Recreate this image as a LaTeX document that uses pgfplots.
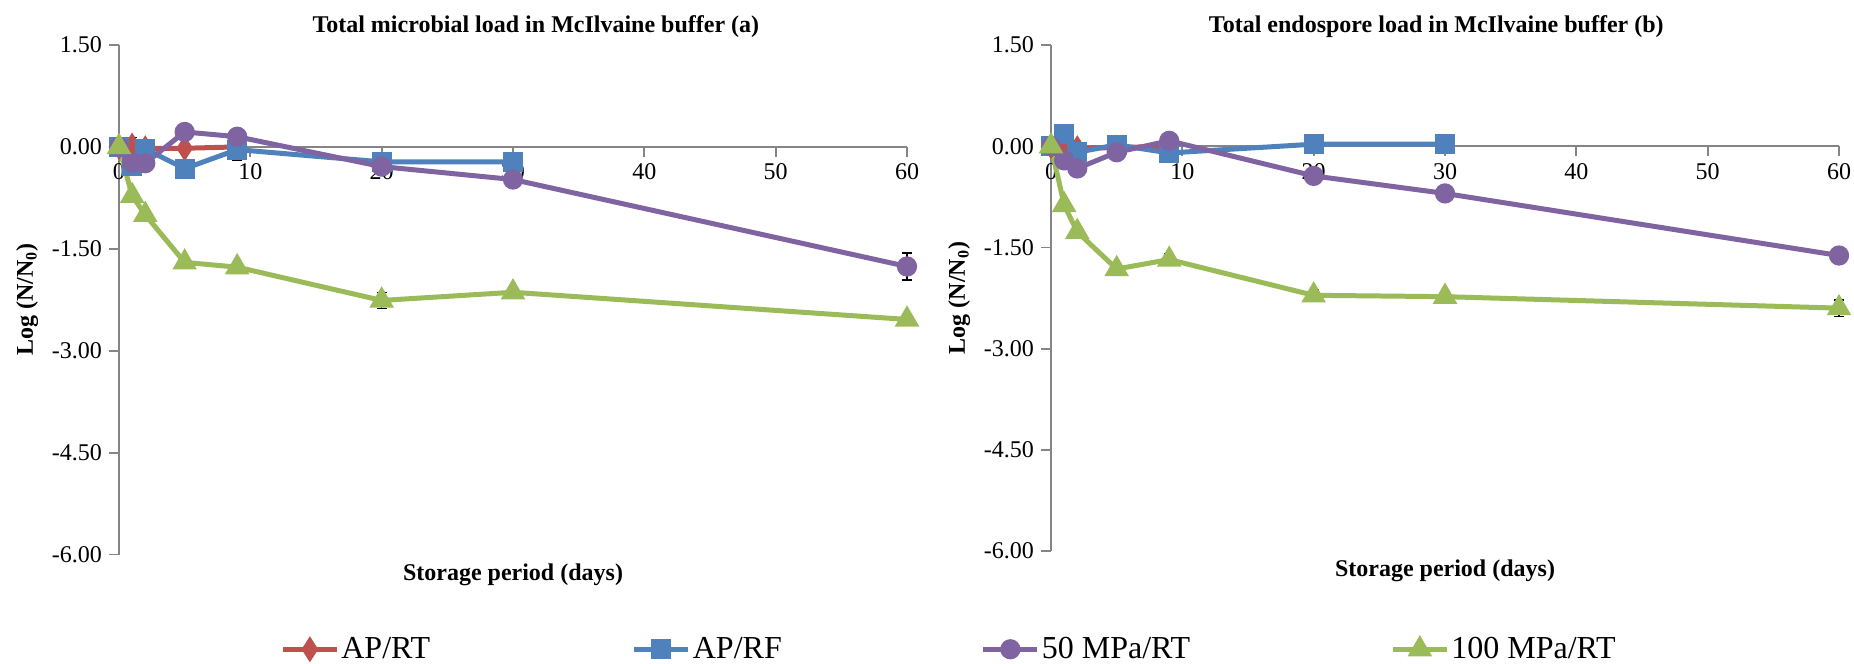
\documentclass[border=0pt]{standalone}
\usepackage{pgfplots}
\pgfplotsset{compat=1.18}
\usepackage{fontspec}
\setmainfont{Liberation Serif}
\definecolor{cRT}{HTML}{C0504D}
\definecolor{cRF}{HTML}{4F81BD}
\definecolor{cFifty}{HTML}{8064A2}
\definecolor{cHund}{HTML}{9BBB59}
\pgfplotsset{
  myaxis/.style={
    scale only axis, width=394pt,
    xmin=0, xmax=60, ymin=-6, ymax=1.5,
    axis x line=middle, axis y line=left,
    hide obscured x ticks=false, hide obscured y ticks=false,
    axis line style={draw=black!48, line width=0.9pt, -},
    tick style={draw=black!48, line width=0.9pt},
    major tick length=5pt,
    xtick align=outside, ytick align=outside,
    xtick={0,10,...,60}, ytick={-6,-4.5,-3,-1.5,0,1.5},
    minor tick num=0,
    font=\fontsize{12}{14}\selectfont,
    tick label style={font=\fontsize{12}{14}\selectfont},
    /pgf/number format/assume math mode=true,
    yticklabel style={/pgf/number format/.cd, fixed, fixed zerofill, precision=2},
    xticklabel style={/pgf/number format/.cd, fixed, precision=0},
    xlabel={\textbf{Storage period (days)}},
    xlabel style={at={(axis description cs:0.5,0)}, anchor=north, yshift=-1pt},
    ylabel={\textbf{Log (N/N\textsubscript{0})}},
    title style={font=\fontsize{12}{14}\selectfont\bfseries, anchor=south, yshift=-6pt},
    clip=false,
    every axis plot/.append style={line width=2.5pt},
  },
  rtstyle/.style={color=cRT, mark=diamond*, mark size=4.2pt, mark options={solid, xscale=0.85}},
  rfstyle/.style={color=cRF, mark=square*, mark size=3.8pt, mark options={solid}},
  fiftystyle/.style={color=cFifty, mark=*, mark size=3.8pt, mark options={solid}},
  hundstyle/.style={color=cHund, mark=triangle*, mark size=4.6pt, mark options={solid}},
  ebars/.style={draw=none, mark=none, forget plot,
    error bars/.cd, y dir=both, y explicit,
    error bar style={draw=black, line width=0.7pt},
    error mark options={draw=black, rotate=90, mark size=2.5pt, line width=0.7pt}},
}
\begin{document}
\begin{tikzpicture}
\path[use as bounding box] (0,0) rectangle (927pt,-332pt);

% ---------------- Left axis ----------------
\begin{axis}[myaxis, height=254.75pt,
  at={(59.5pt,-277.25pt)}, anchor=south west,
  title={Total microbial load in McIlvaine buffer (a)},
  title style={at={(axis description cs:0.529,1)}},
  legend style={at={(axis description cs:0.2043,-0.186)}, anchor=west,
    draw=none, fill=none, inner sep=0pt, legend columns=4,
    font=\fontsize{16}{18}\selectfont,
    nodes={inner sep=0pt},
    /tikz/every odd column/.append style={column sep=1pt},
    /tikz/every even column/.append style={column sep=0pt}},
  legend cell align=left,
  legend image code/.code={\draw[mark repeat=2,mark phase=2] plot coordinates {(0pt,0pt)(13.5pt,0pt)(27pt,0pt)};},
]
\addplot[rtstyle] coordinates {(0,0) (1,0.02) (2,-0.02) (5,-0.02) (9,0.0)};
\addlegendentry{\makebox[145.25pt][l]{AP/RT}}
\addplot[rfstyle] coordinates {(0,0) (1,-0.28) (2,-0.03) (5,-0.32) (9,-0.04) (20,-0.22) (30,-0.22)};
\addlegendentry{\makebox[144pt][l]{AP/RF}}
\addplot[fiftystyle] coordinates {(0,0) (1,-0.23) (2,-0.24) (5,0.22) (9,0.15) (20,-0.29) (30,-0.48) (60,-1.76)};
\addlegendentry{\makebox[174.25pt][l]{50 MPa/RT}}
\addplot[hundstyle] coordinates {(0,0) (1,-0.72) (2,-1.00) (5,-1.70) (9,-1.77) (20,-2.26) (30,-2.14) (60,-2.54)};
\addlegendentry{100 MPa/RT}
% error bars
\addplot[ebars] coordinates {(1,0.02) +- (0,0.12) (9,-0.04) +- (0,0.16) (60,-1.76) +- (0,0.20)
  (1,-0.72) +- (0,0.08) (2,-1.00) +- (0,0.07) (5,-1.70) +- (0,0.06) (20,-2.26) +- (0,0.12) (30,-2.14) +- (0,0.07) (60,-2.54) +- (0,0.06)};
\end{axis}

% ---------------- Right axis ----------------
\begin{axis}[myaxis, height=253pt,
  at={(525.5pt,-275.5pt)}, anchor=south west,
  title={Total endospore load in McIlvaine buffer (b)},
  title style={at={(axis description cs:0.489,1)}},
]
\addplot[rtstyle] coordinates {(0,0) (1,-0.04) (2,-0.03) (5,-0.02) (9,0.0)};
\addplot[rfstyle] coordinates {(0,0) (1,0.18) (2,-0.09) (5,0.02) (9,-0.10) (20,0.03) (30,0.03)};
\addplot[fiftystyle] coordinates {(0,0) (1,-0.21) (2,-0.33) (5,-0.09) (9,0.08) (20,-0.44) (30,-0.70) (60,-1.62)};
\addplot[hundstyle] coordinates {(0,0) (1,-0.87) (2,-1.27) (5,-1.82) (9,-1.68) (20,-2.21) (30,-2.23) (60,-2.40)};
\addplot[ebars] coordinates {(9,-0.10) +- (0,0.14)
  (1,-0.87) +- (0,0.08) (2,-1.27) +- (0,0.07) (5,-1.82) +- (0,0.06) (9,-1.68) +- (0,0.08) (20,-2.21) +- (0,0.09) (30,-2.23) +- (0,0.05) (60,-2.40) +- (0,0.12)};
\end{axis}
\end{tikzpicture}
\end{document}
